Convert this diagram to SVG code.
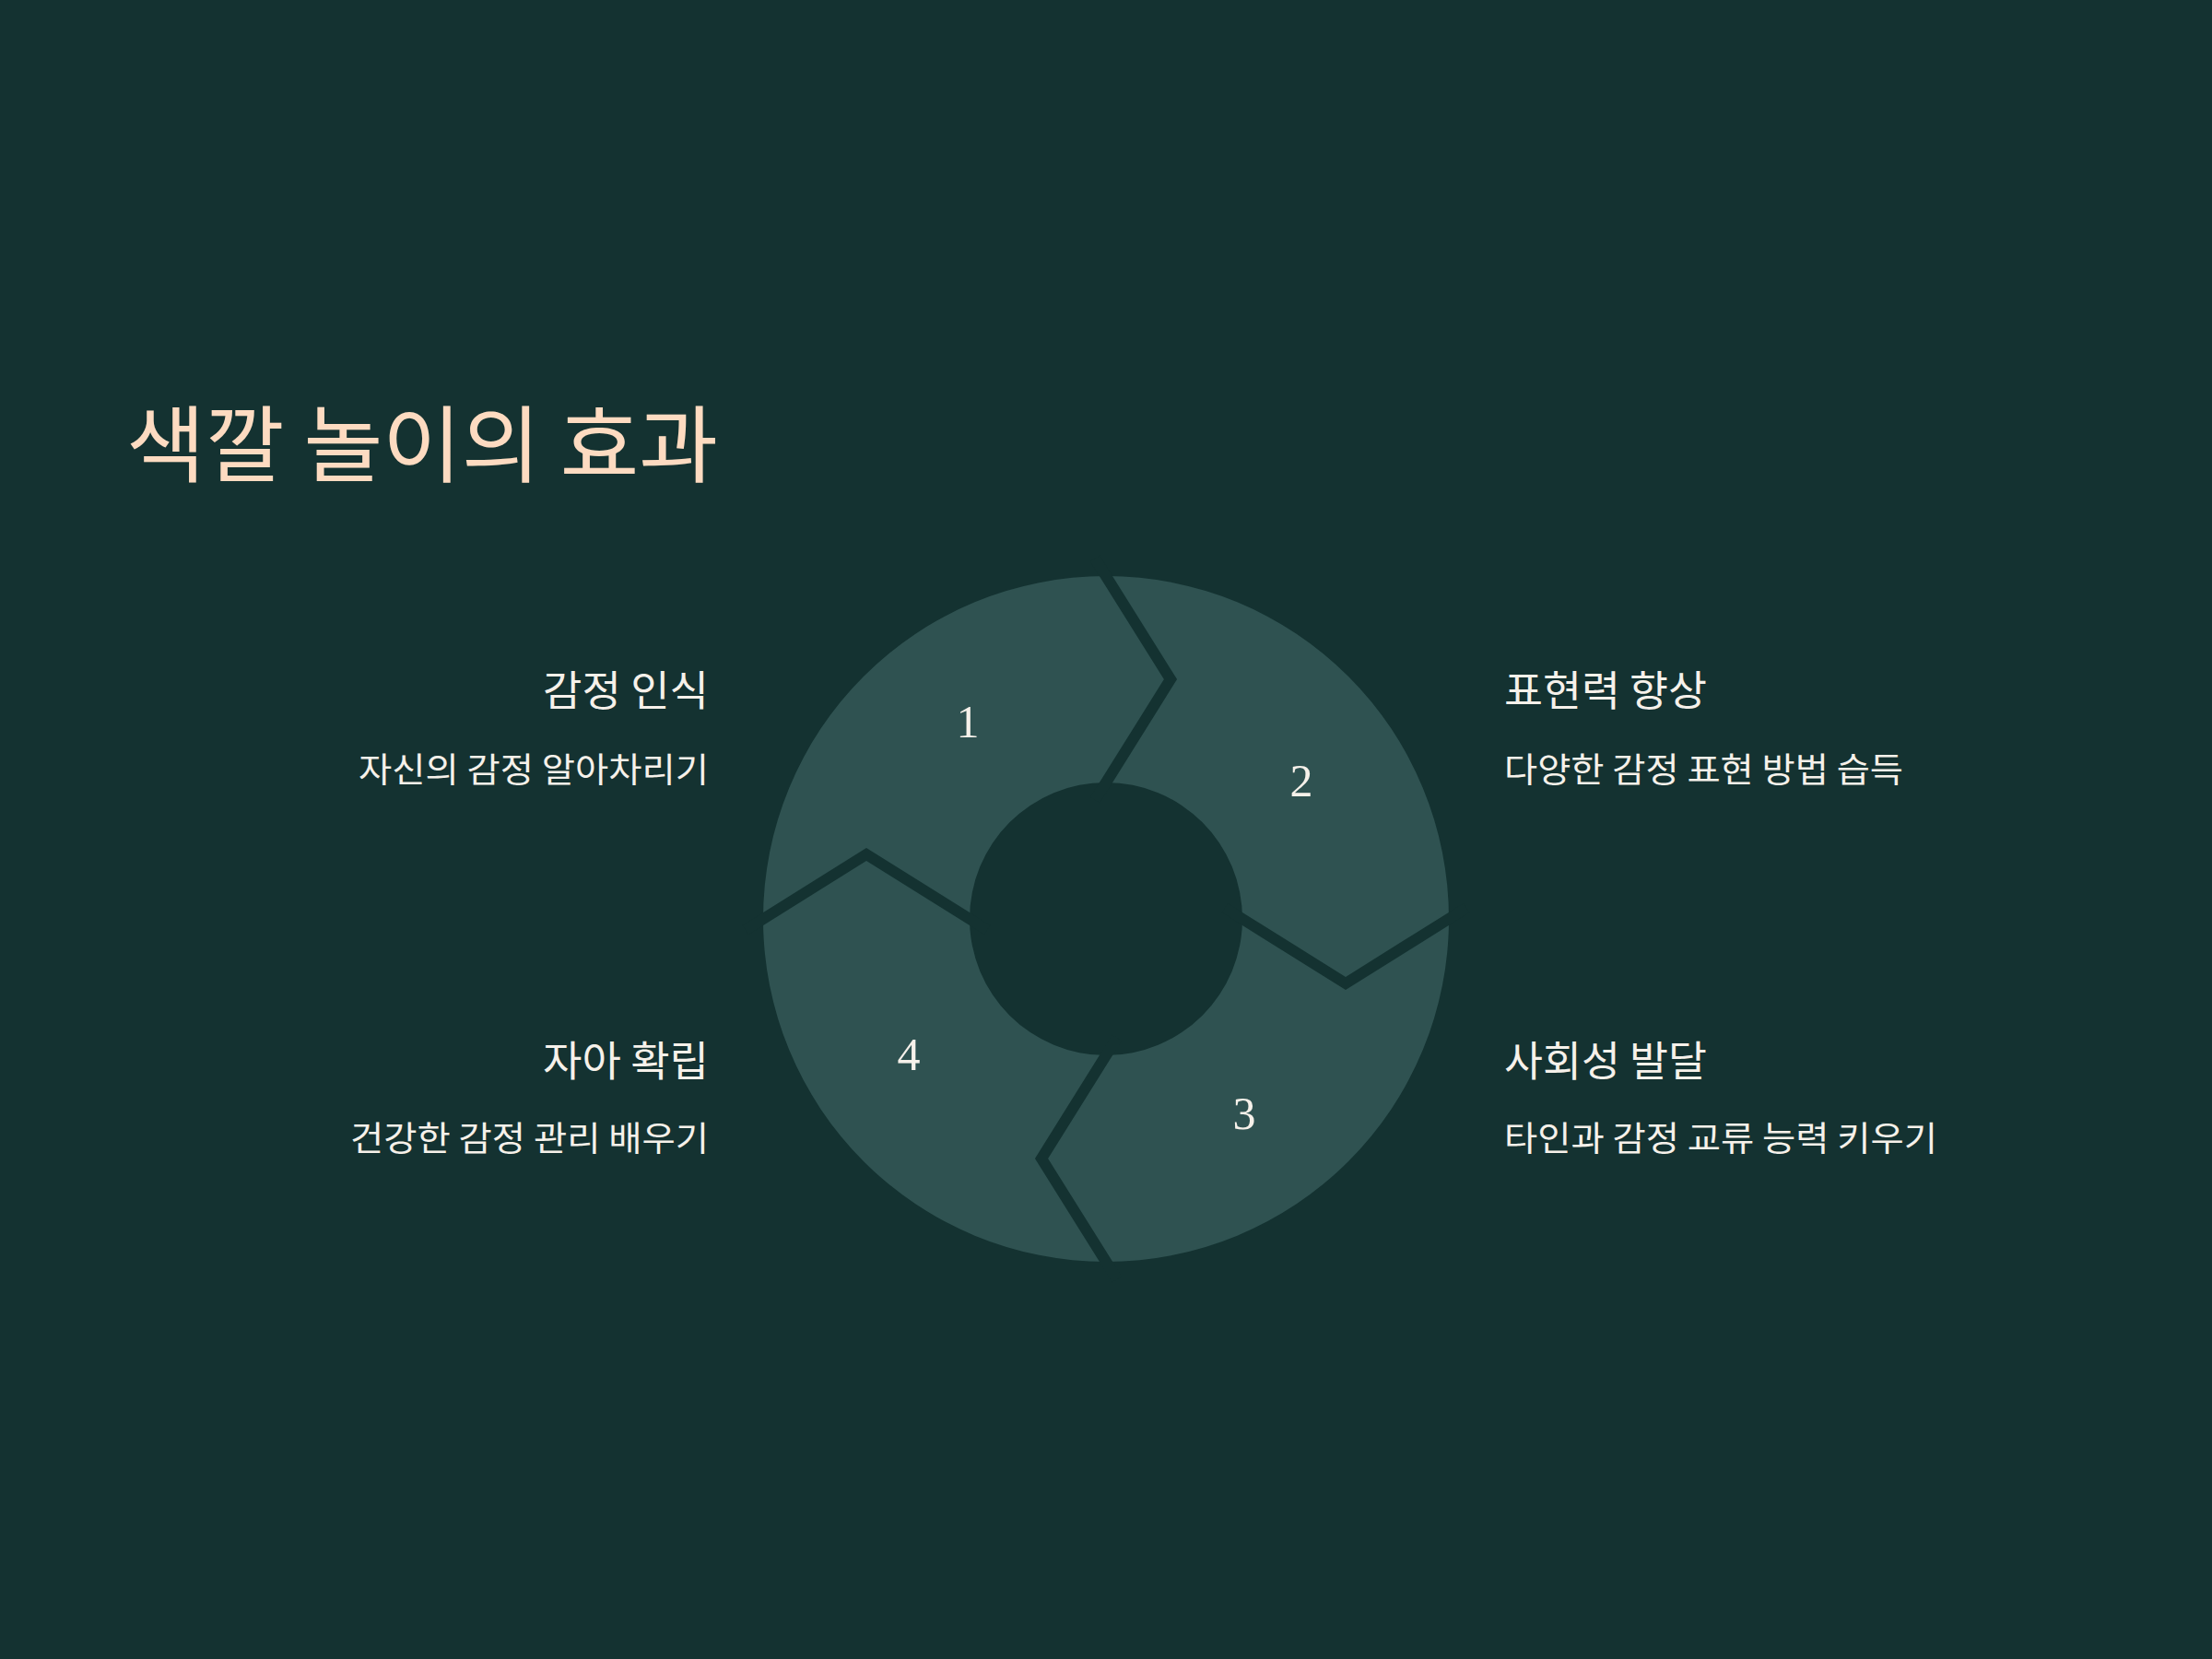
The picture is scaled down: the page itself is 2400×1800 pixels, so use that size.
<svg xmlns="http://www.w3.org/2000/svg" width="2400" height="1800" viewBox="0 0 2400 1800">
<style>
.bg{fill:#143231}
.seg{fill:#2f5251}
.sep{fill:none;stroke:#143231;stroke-width:12;stroke-linejoin:miter;stroke-miterlimit:10}
.title{font-family:"Noto Sans CJK KR","Noto Sans",sans-serif;font-size:91px;fill:#fddbc1}
.head{font-family:"Noto Sans CJK KR","Noto Sans",sans-serif;font-size:45px;fill:#f6f1ea}
.sub{font-family:"Noto Sans CJK KR","Noto Sans",sans-serif;font-size:37px;fill:#f6f1ea}
.num{font-family:"Liberation Serif","DejaVu Serif",serif;font-size:50px;fill:#f6f1ea;text-anchor:middle}
.end{text-anchor:end}
</style>
<rect class="bg" x="0" y="0" width="2400" height="1800"/>
<text class="title" x="137" y="516" textLength="642" lengthAdjust="spacingAndGlyphs">색깔 놀이의 효과</text>
<g id="seg1">
<path class="seg" d="M1200,625 L1270,737 L1200,849 A148,148 0 0 0 1052,997 L940,927 L828,997 A372,372 0 0 1 1200,625 Z"/>
<text class="num" x="1050" y="800">1</text>
</g>
<g id="seg2">
<path class="seg" d="M1200,625 A372,372 0 0 1 1572,997 L1460,1067 L1348,997 A148,148 0 0 0 1200,849 L1270,737 Z"/>
<text class="num" x="1412" y="864">2</text>
</g>
<g id="seg3">
<path class="seg" d="M1572,997 A372,372 0 0 1 1200,1369 L1130,1257 L1200,1145 A148,148 0 0 0 1348,997 L1460,1067 Z"/>
<text class="num" x="1350" y="1225">3</text>
</g>
<g id="seg4">
<path class="seg" d="M1200,1369 A372,372 0 0 1 828,997 L940,927 L1052,997 A148,148 0 0 0 1200,1145 L1130,1257 Z"/>
<text class="num" x="986" y="1161">4</text>
</g>
<g id="connectors">
<polyline class="sep" points="1188,606 1270,737 1200,849 1188,868"/>
<polyline class="sep" points="1591,985 1460,1067 1348,997 1329,985"/>
<polyline class="sep" points="1212,1388 1130,1257 1200,1145 1212,1126"/>
<polyline class="sep" points="809,1009 940,927 1052,997 1071,1009"/>
</g>
<g id="label1">
<text class="head end" x="769" y="766" textLength="180" lengthAdjust="spacingAndGlyphs">감정 인식</text>
<text class="sub end" x="769" y="849" textLength="380" lengthAdjust="spacingAndGlyphs">자신의 감정 알아차리기</text>
</g>
<g id="label2">
<text class="head" x="1632" y="766" textLength="220" lengthAdjust="spacingAndGlyphs">표현력 향상</text>
<text class="sub" x="1632" y="849" textLength="433" lengthAdjust="spacingAndGlyphs">다양한 감정 표현 방법 습득</text>
</g>
<g id="label3">
<text class="head" x="1632" y="1168" textLength="220" lengthAdjust="spacingAndGlyphs">사회성 발달</text>
<text class="sub" x="1632" y="1249" textLength="470" lengthAdjust="spacingAndGlyphs">타인과 감정 교류 능력 키우기</text>
</g>
<g id="label4">
<text class="head end" x="769" y="1168" textLength="180" lengthAdjust="spacingAndGlyphs">자아 확립</text>
<text class="sub end" x="769" y="1249" textLength="389" lengthAdjust="spacingAndGlyphs">건강한 감정 관리 배우기</text>
</g>
</svg>
